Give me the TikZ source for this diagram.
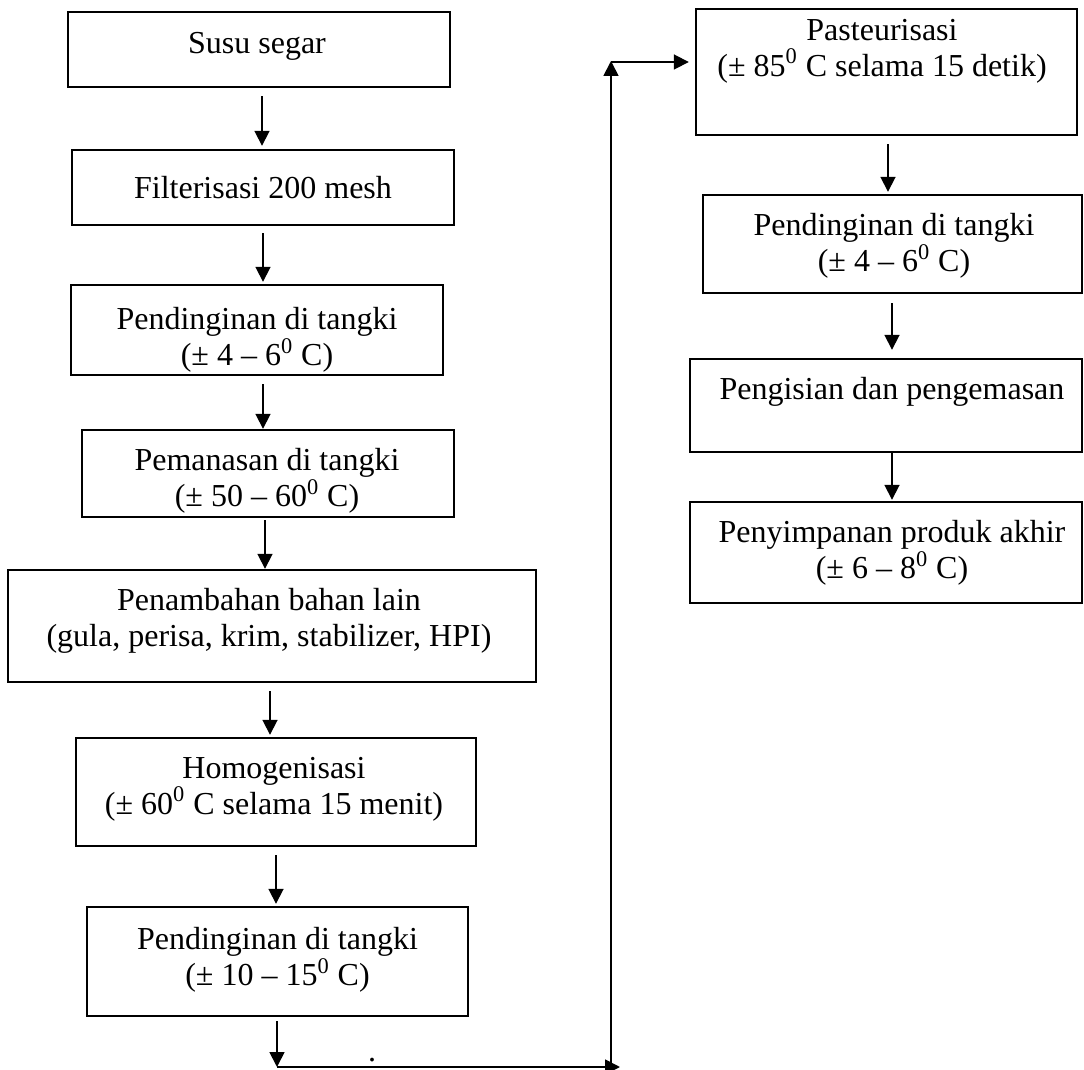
\documentclass[tikz,border=0pt]{standalone}
\usepackage{fontspec}
\setmainfont{Liberation Serif}
\usetikzlibrary{arrows.meta, calc, positioning}

\begin{document}
\begin{tikzpicture}[x=0.5pt, y=-0.5pt,
	every node/.style={font=\fontsize{16pt}{18pt}\selectfont},
	kotak/.style={draw, line width=1.2pt, inner sep=0pt},
	teks/.style={align=center, inner sep=0pt},
	panah/.style={line width=0.9pt, -{Triangle[width=7.5pt, length=7.5pt]}}]

	\useasboundingbox (0,0) rectangle (1084,1070);

	% kolom kiri
	\node(susu) [kotak, minimum width=191pt, minimum height=37.5pt] at (259,49.5) {};
	\node(susuT) [teks] at (257,46) {Susu segar};

	\node(filter) [kotak, minimum width=191pt, minimum height=37.5pt] at (263,187.5) {};
	\node(filterT) [teks] at (263,188) {Filterisasi 200 mesh};

	\node(dinginA) [kotak, minimum width=186pt, minimum height=45pt] at (257,330) {};
	\node(dinginAT) [teks] at (257,340) {Pendinginan di tangki\\(± 4 – 6\textsuperscript{0} C)};

	\node(panas) [kotak, minimum width=186pt, minimum height=43.5pt] at (268,473.5) {};
	\node(panasT) [teks] at (267,481) {Pemanasan di tangki\\(± 50 – 60\textsuperscript{0} C)};

	\node(tambah) [kotak, minimum width=264pt, minimum height=56pt] at (272,626) {};
	\node(tambahT) [teks] at (269,621) {Penambahan bahan lain\\(gula, perisa, krim, stabilizer, HPI)};

	\node(homogen) [kotak, minimum width=200pt, minimum height=54pt] at (276,792) {};
	\node(homogenT) [teks] at (274,789) {Homogenisasi\\(± 60\textsuperscript{0} C selama 15 menit)};

	\node(dinginB) [kotak, minimum width=190.5pt, minimum height=54.5pt] at (277.5,961.5) {};
	\node(dinginBT) [teks] at (277.5,960) {Pendinginan di tangki\\(± 10 – 15\textsuperscript{0} C)};

	% kolom kanan
	\node(pasteur) [kotak, minimum width=190.5pt, minimum height=63pt] at (886.5,72) {};
	\node(pasteurT) [teks] at (882,51) {Pasteurisasi\\(± 85\textsuperscript{0} C selama 15 detik)};

	\node(dinginC) [kotak, minimum width=189.5pt, minimum height=49pt] at (892.5,244) {};
	\node(dinginCT) [teks] at (894,246) {Pendinginan di tangki\\(± 4 – 6\textsuperscript{0} C)};

	\node(isi) [kotak, minimum width=196pt, minimum height=46.5pt] at (886,405.5) {};
	\node(isiT) [teks] at (892,392) {Pengisian dan pengemasan};

	\node(simpan) [kotak, minimum width=196pt, minimum height=50.5pt] at (886,552.5) {};
	\node(simpanT) [teks] at (892,553) {Penyimpanan produk akhir\\(± 6 – 8\textsuperscript{0} C)};

	% panah antar kotak
	\draw[panah] ($(susu.south)+(3,8)$) -- ($(filter.north)+(-1,-3)$);
	\draw[panah] ($(filter.south)+(0,7)$) -- ($(dinginA.north)+(6,-2)$);
	\draw[panah] ($(dinginA.south)+(6,8)$) -- ($(panas.north)+(-5,0)$);
	\draw[panah] ($(panas.south)+(-3,2)$) -- ($(tambah.north)+(-7,0)$);
	\draw[panah] ($(tambah.south)+(-2,8)$) -- ($(homogen.north)+(-6,-2)$);
	\draw[panah] ($(homogen.south)+(0,8)$) -- ($(dinginB.north)+(-1.5,-2)$);

	\draw[panah] ($(pasteur.south)+(1.5,8)$) -- ($(dinginC.north)+(-4.5,-2)$);
	\draw[panah] ($(dinginC.south)+(-0.5,9)$) -- ($(isi.north)+(6,-8)$);
	\draw[panah] ($(isi.south)+(6,0)$) -- ($(simpan.north)+(6,-1)$);

	% sambungan ke kolom kanan
	\coordinate (bawah) at (277,1067);
	\coordinate (ujung) at (620,1067);
	\coordinate (belokA) at (611,1065);
	\coordinate (belokB) at (611,61);
	\draw[panah] ($(dinginB.south)+(-0.5,4)$) -- (bawah);
	\draw[panah] (bawah) -- (ujung);
	\draw[panah] (belokA) -- (belokB);
	\draw[panah] (611,62) -- ($(pasteur.west)+(-6,-10)$);

	\node(titik) [teks] at (372,1060) {.};

\end{tikzpicture}
\end{document}
